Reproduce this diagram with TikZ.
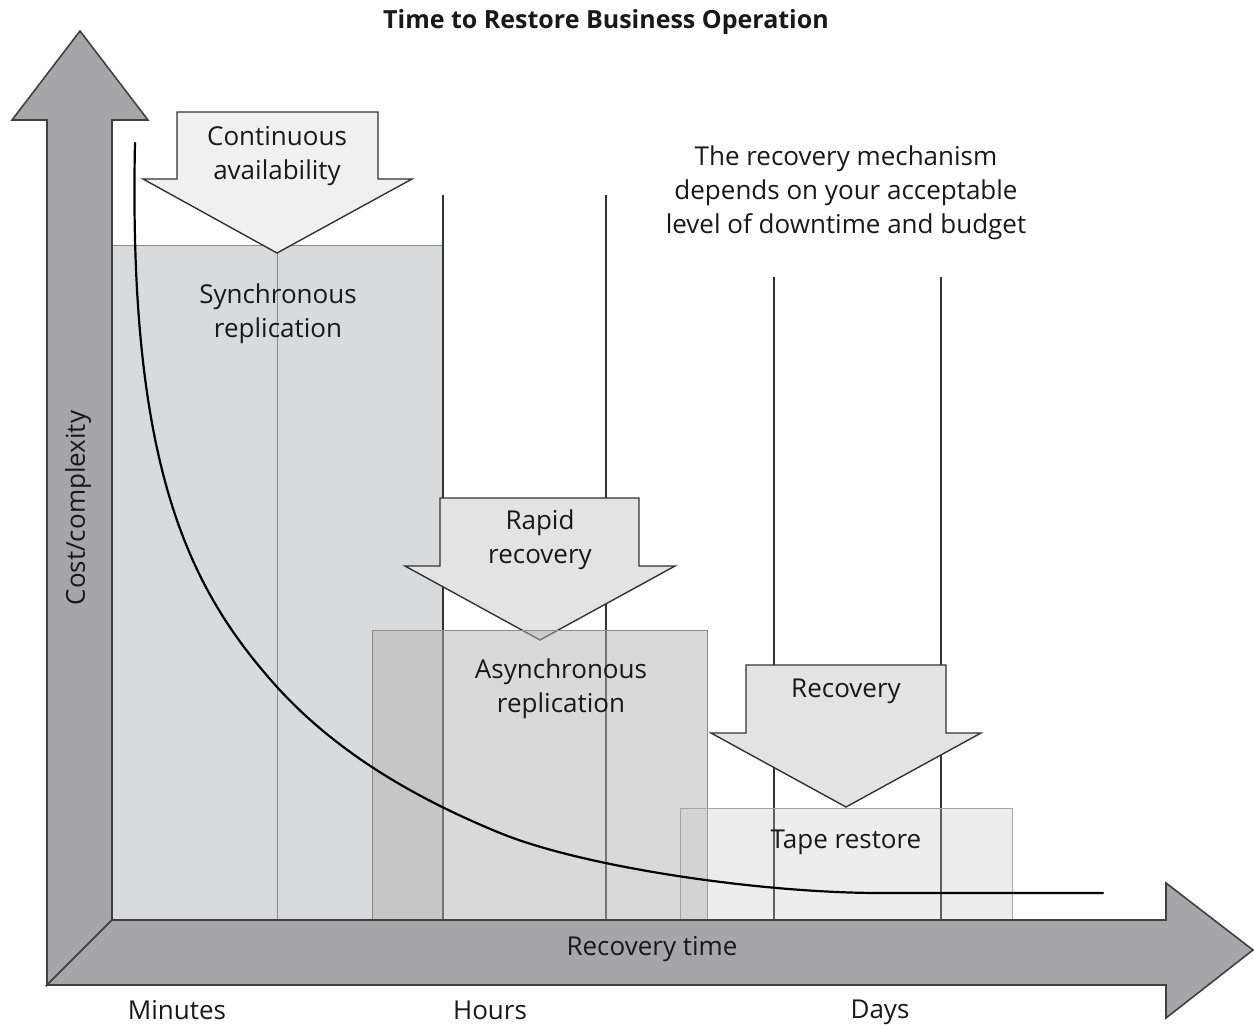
\documentclass[tikz,border=0pt]{standalone}
\usepackage{fontspec}
\setmainfont{Open Sans}
\definecolor{axisgray}{HTML}{A6A6A8}
\definecolor{syncgray}{HTML}{D9DADB}
\definecolor{asyncgray}{HTML}{B4B4B4}
\definecolor{tapegray}{HTML}{C6C6C6}
\definecolor{edgegray}{HTML}{8C8C8C}
\begin{document}
\begin{tikzpicture}[x=1pt,y=-1pt,
  txt/.style={font=\fontsize{26}{34}\selectfont,text=black!90,align=center},
  guide/.style={draw=black!80,line width=1.4pt},
  dnarrow/.style={draw=black!80,line width=1.4pt,line join=miter},
  boxedge/.style={draw=edgegray,line width=1pt},
  axisarrow/.style={draw=black!75,fill=axisgray,line width=1.6pt,line join=miter}]
\useasboundingbox (0,0) rectangle (1254,1025);
\fill[white] (0,0) rectangle (1254,1025);
\draw[boxedge,fill=syncgray] (112,245) rectangle (443,920);
\draw[boxedge] (277,245) -- (277,920);
\draw[guide] (443,195) -- (443,920);
\draw[guide] (606,195) -- (606,920);
\draw[guide] (774,277) -- (774,920);
\draw[guide] (941,277) -- (941,920);
\draw[dnarrow,fill=black!6] (177,112) -- (378,112) -- (378,179) -- (412,179) -- (277,253) -- (143,179) -- (177,179) -- cycle;
\draw[dnarrow,fill=black!11] (440,498) -- (639,498) -- (639,566) -- (675,566) -- (540,640) -- (405,566) -- (440,566) -- cycle;
\draw[dnarrow,fill=black!11] (746,665) -- (946,665) -- (946,733) -- (981,733) -- (846,807) -- (711,733) -- (746,733) -- cycle;
\draw[boxedge,fill=asyncgray,fill opacity=0.5] (372,630) rectangle (707,920);
\draw[boxedge,draw=black!35,fill=tapegray,fill opacity=0.3] (680,808) rectangle (1012,920);
\draw[black,line width=2.2pt,line cap=round] (135,143) .. controls (128,470) and (190,590) .. (277,687)
  .. controls (338,754) and (417,799) .. (500,833)
  .. controls (583,867) and (760,893) .. (880,893) -- (1103,893);
\draw[axisarrow] (47,985) -- (47,120) -- (12,120) -- (80,31) -- (148,120) -- (112,120) -- (112,920) -- cycle;
\draw[axisarrow] (47,985) -- (112,920) -- (1166,920) -- (1166,883) -- (1253,950) -- (1166,1018) -- (1166,985) -- cycle;
\node[font=\bfseries\fontsize{25}{30}\selectfont,text=black!90] (title) at (606,22) {Time to Restore Business Operation};
\node[txt] (contav) at (277,156) {Continuous\\availability};
\node[txt] (syncrep) at (278,314) {Synchronous\\replication};
\node[txt] (rapid) at (540,540) {Rapid\\recovery};
\node[txt] (asyncrep) at (561,689) {Asynchronous\\replication};
\node[txt] (recov) at (846,691) {Recovery};
\node[txt] (tape) at (846,842) {Tape restore};
\node[txt] (note) at (846,193) {The recovery mechanism\\depends on your acceptable\\level of downtime and budget};
\node[txt] (xlabel) at (652,949) {Recovery time};
\node[txt,rotate=90] (ylabel) at (78,508) {Cost/complexity};
\node[txt] (minutes) at (177,1010) {Minutes};
\node[txt] (hours) at (490,1010) {Hours};
\node[txt] (days) at (880,1012) {Days};
\end{tikzpicture}
\end{document}
